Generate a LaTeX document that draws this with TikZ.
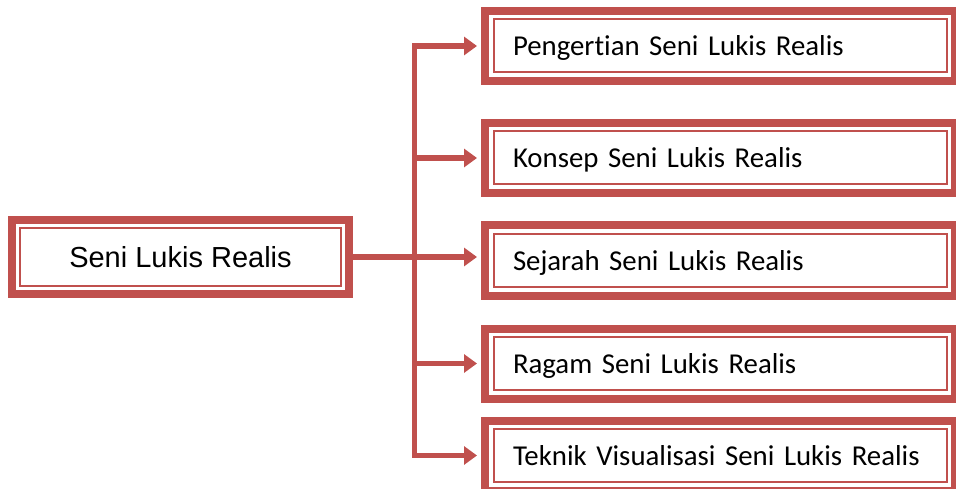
\documentclass[tikz,border=0pt]{standalone}
\usepackage{fontspec}
\setmainfont{Carlito}[Ligatures=NoCommon]
\newfontfamily\arialfont{Liberation Sans}
\usepackage{tikz}
\usetikzlibrary{arrows.meta}

\definecolor{merahbata}{HTML}{C0504D}

\tikzset{
	kotakutama/.style={draw=merahbata, line width=8.5pt, minimum width=337pt, minimum height=74pt,
		inner sep=0pt, text height=21pt, text depth=0pt, font=\arialfont\fontsize{29}{34}\selectfont},
	kotakbab/.style={draw=merahbata, line width=8pt, minimum height=70pt, inner xsep=28pt, inner ysep=0pt,
		text width=414pt, align=left, text height=20pt, text depth=0pt, font=\fontsize{28.8}{34}\selectfont},
	garistipis/.style={draw=merahbata, line width=2pt},
	panah/.style={draw=merahbata, line width=5.5pt, -{Triangle[length=13pt,width=18pt]}, shorten >=4pt}
}

\begin{document}
\begin{tikzpicture}[x=1pt, y=-1pt]
		\useasboundingbox (0,0) rectangle (956,489); % ukuran gambar
		
		% Kotak utama
		\node[kotakutama] (utama) at (180.5,257) {Seni Lukis Realis};
		
		% Kotak di kanan
		\node[kotakbab] (pengertian) at (720,46) {Pengertian Seni Lukis Realis};
		\node[kotakbab] (konsep) at (720,158) {Konsep Seni Lukis Realis};
		\node[kotakbab] (sejarah) at (720,260.5) {Sejarah Seni Lukis Realis};
		\node[kotakbab] (ragam) at (720,363.5) {Ragam Seni Lukis Realis};
		\node[kotakbab] (teknik) at (720,455.5) {Teknik Visualisasi Seni Lukis Realis};
		
		% Garis tipis di dalam setiap kotak
		\foreach \n in {utama,pengertian,konsep,sejarah,ragam,teknik}
			\draw[garistipis] ([shift={(12.5,12.5)}]\n.north west) rectangle ([shift={(-12.5,-12.5)}]\n.south east);
		
		% Garis tegak penghubung
		\coordinate (tulang) at (414.5,0);
		
		\draw[panah] (tulang |- teknik.west) -- (tulang |- pengertian.west) -- (pengertian.west); % ke kotak pertama
		\draw[panah] (tulang |- konsep.west) -- (konsep.west);
		\draw[panah] (utama.east) -- (utama.east -| sejarah.west); % dari kotak utama
		\draw[panah] (tulang |- ragam.west) -- (ragam.west);
		\draw[panah, line cap=rect] (tulang |- teknik.west) -- (teknik.west); % ke kotak terakhir
	\end{tikzpicture}
\end{document}
